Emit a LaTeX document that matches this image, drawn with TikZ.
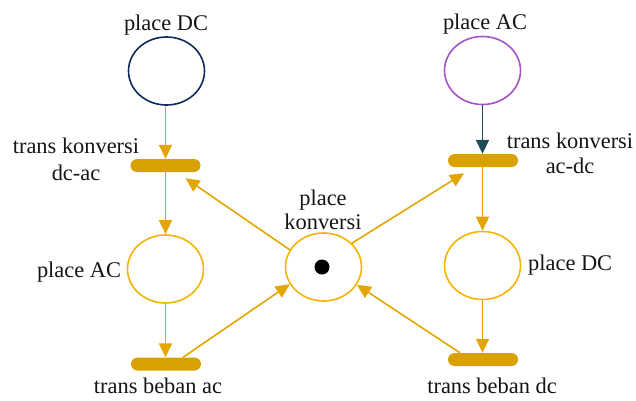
\documentclass[tikz,border=0pt]{standalone}
\usepackage{fontspec}
\setmainfont{Liberation Serif}
\usetikzlibrary{shapes.geometric,arrows.meta}
\definecolor{navy}{HTML}{0F2B5B}
\definecolor{purp}{HTML}{A752C8}
\definecolor{ycirc}{HTML}{F4B400}
\definecolor{yarr}{HTML}{E3A500}
\definecolor{ybar}{HTML}{D9A100}
\definecolor{teal2}{HTML}{1E4B56}
\definecolor{txt}{HTML}{151515}
\tikzset{
  place/.style={ellipse, draw, line width=1.6pt, minimum width=76pt, minimum height=68pt, inner sep=0pt},
  trans/.style={rectangle, fill=ybar, rounded corners=6.5pt, minimum width=70pt, minimum height=13pt, inner sep=0pt},
  lbl/.style={text=txt, font=\fontsize{22.4}{24}\selectfont, inner sep=0pt, anchor=base},
  arr/.style={-{Triangle[length=14pt,width=13pt]}, line width=1.6pt, draw=yarr}
}
\begin{document}
\begin{tikzpicture}[x=1pt,y=-1pt]
\useasboundingbox (0,0) rectangle (636,400);
% places
\node[place, draw=navy] (pDCt) at (166.5,71) {};
\node[place, draw=purp] (pACt) at (482.5,70.5) {};
\node[place, draw=ycirc] (pACl) at (165.5,269) {};
\node[place, draw=ycirc] (pK) at (323.5,267) {};
\node[place, draw=ycirc] (pDCr) at (482.5,265.5) {};
\node[circle, fill=black, minimum size=15pt, inner sep=0pt] (tok) at (322,267) {};
% transitions
\node[trans] (tDCAC) at (165.5,165.5) {};
\node[trans] (tACDC) at (483,160.5) {};
\node[trans] (tBAC) at (166,364) {};
\node[trans] (tBDC) at (483,359.5) {};
% labels
\node[lbl] (l1) at (166,30) {place DC};
\node[lbl] (l2) at (485,29.5) {place AC};
\node[lbl] (l3) at (76,153) {trans konversi};
\node[lbl] (l4) at (76,180) {dc-ac};
\node[lbl] (l5) at (79,277) {place AC};
\node[lbl] (l6) at (323,205) {place};
\node[lbl] (l7) at (323,229) {konversi};
\node[lbl] (l8) at (570,148) {trans konversi};
\node[lbl] (l9) at (570,173) {ac-dc};
\node[lbl, anchor=base west] (l10) at (528,270) {place DC};
\node[lbl] (l11) at (158,393) {trans beban ac};
\node[lbl] (l12) at (492,393) {trans beban dc};
% arcs
\draw[arr] ([xshift=-1pt]pDCt.south) -- (tDCAC.north);
\draw[arr] (tDCAC.south) -- (tDCAC.south |- pACl.north);
\draw[arr] (pACl.south) -- (pACl.south |- tBAC.north);
\draw[arr] ([xshift=17pt]tBAC.north) -- (pK.207);
\draw[arr] (pK.153) -- ([xshift=20pt,yshift=-6pt]tDCAC.south);
\draw[arr] (pK.40) -- ([xshift=-19pt,yshift=-6pt]tACDC.south);
\draw[arr] ([xshift=-23pt]tBDC.north) -- (pK.-28);
\draw[arr, draw=teal2] (pACt.south) -- (pACt.south |- tACDC.north);
\draw[arr] (pDCr.north |- tACDC.south) -- (pDCr.north);
\draw[arr] (pDCr.south) -- (pDCr.south |- tBDC.north);
\end{tikzpicture}
\end{document}
